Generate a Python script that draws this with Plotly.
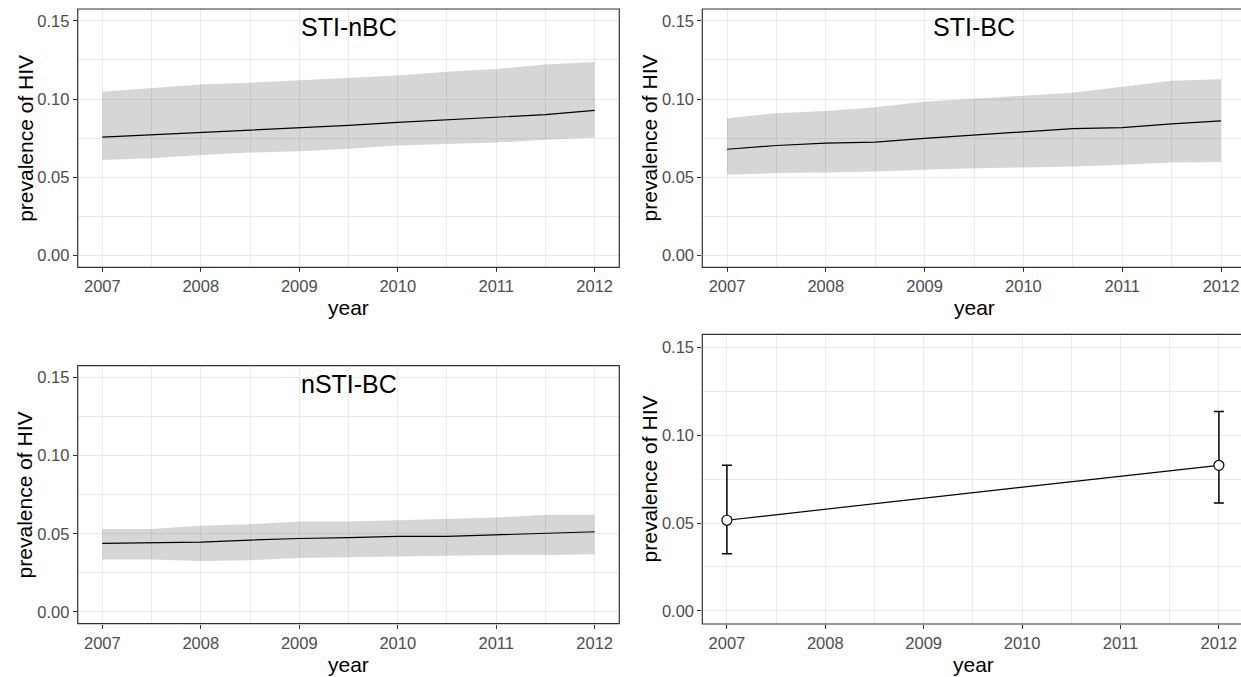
import plotly.graph_objects as go

W, H = 1241, 677

years = [2007, 2007.5, 2008, 2008.5, 2009, 2009.5, 2010, 2010.5, 2011, 2011.5, 2012]

# Panel 1: STI-nBC
p1_mean = [0.0756, 0.0771, 0.0786, 0.0800, 0.0817, 0.0832, 0.0851, 0.0866, 0.0881, 0.0900, 0.0928]
p1_low = [0.0611, 0.0622, 0.0643, 0.0658, 0.0667, 0.0682, 0.0703, 0.0713, 0.0722, 0.0739, 0.0754]
p1_up = [0.1047, 0.1068, 0.1093, 0.1104, 0.1119, 0.1134, 0.1151, 0.1174, 0.1191, 0.1221, 0.1236]

# Panel 2: STI-BC
p2_mean = [0.0679, 0.0703, 0.0718, 0.0724, 0.0749, 0.0771, 0.0792, 0.0811, 0.0817, 0.0841, 0.0860]
p2_low = [0.0516, 0.0527, 0.0531, 0.0537, 0.0548, 0.0558, 0.0563, 0.0569, 0.0580, 0.0594, 0.0597]
p2_up = [0.0877, 0.0909, 0.0924, 0.0947, 0.0983, 0.1000, 0.1021, 0.1040, 0.1079, 0.1117, 0.1127]

# Panel 3: nSTI-BC
p3_mean = [0.0439, 0.0441, 0.0447, 0.0460, 0.0470, 0.0475, 0.0483, 0.0483, 0.0492, 0.0502, 0.0513]
p3_low = [0.0335, 0.0335, 0.0326, 0.0331, 0.0345, 0.0350, 0.0354, 0.0356, 0.0364, 0.0364, 0.0369]
p3_up = [0.0530, 0.0530, 0.0551, 0.0561, 0.0578, 0.0578, 0.0587, 0.0597, 0.0604, 0.0621, 0.0621]

# Panel 4: observed points
obs_years = [2007, 2012]
obs_val = [0.0516, 0.0829]
obs_low = [0.0325, 0.0614]
obs_up = [0.0829, 0.1135]

titles = ["STI-nBC", "STI-BC", "nSTI-BC", ""]
xtick_vals = [2007, 2008, 2009, 2010, 2011, 2012]
ytick_vals = [0.00, 0.05, 0.10, 0.15]

FONT = "Liberation Sans, Arial, sans-serif"
GRID = "#ebebeb"
FRAME = "#333333"

# panel boxes in pixels: (left, right, top, bottom)
boxes = [
    (77.7, 619.3, 9.0, 267.3),
    (702.3, 1245.7, 9.0, 267.3),
    (77.7, 619.3, 365.7, 623.7),
    (702.3, 1243.5, 334.3, 624.0),
]

fig = go.Figure()

ribbons = [(p1_low, p1_up, p1_mean), (p2_low, p2_up, p2_mean), (p3_low, p3_up, p3_mean)]
for i, (lo, up, mn) in enumerate(ribbons):
    xa = "x" if i == 0 else f"x{i+1}"
    ya = "y" if i == 0 else f"y{i+1}"
    fig.add_trace(go.Scatter(x=years, y=lo, mode="lines", line=dict(width=0, color="rgba(0,0,0,0)"),
                             xaxis=xa, yaxis=ya, showlegend=False, hoverinfo="skip"))
    fig.add_trace(go.Scatter(x=years, y=up, mode="lines", line=dict(width=0, color="rgba(0,0,0,0)"),
                             fill="tonexty", fillcolor="rgba(51,51,51,0.2)",
                             xaxis=xa, yaxis=ya, showlegend=False, hoverinfo="skip"))
    fig.add_trace(go.Scatter(x=years, y=mn, mode="lines", line=dict(width=1.2, color="black"),
                             xaxis=xa, yaxis=ya, showlegend=False))

err_plus = [u - v for u, v in zip(obs_up, obs_val)]
err_minus = [v - l for v, l in zip(obs_val, obs_low)]
fig.add_trace(go.Scatter(x=obs_years, y=obs_val, mode="lines+markers",
                         line=dict(width=1.2, color="black"),
                         marker=dict(size=10, color="white", line=dict(width=1.2, color="black")),
                         error_y=dict(type="data", symmetric=False, array=err_plus, arrayminus=err_minus,
                                      color="black", thickness=1.5, width=5),
                         xaxis="x4", yaxis="y4", showlegend=False))

layout = dict(width=W, height=H, margin=dict(l=0, r=0, t=0, b=0),
              paper_bgcolor="white", plot_bgcolor="white", showlegend=False)

shapes = []
annotations = []
for i, (l, r, t, b) in enumerate(boxes):
    k = "" if i == 0 else str(i + 1)
    x0f, x1f = l / W, min(r, W) / W
    y0f, y1f = 1 - b / H, 1 - t / H
    full_w = r - l
    vis_w = min(r, W) - l
    xmax = 2006.75 + 5.5 * vis_w / full_w
    layout["xaxis" + k] = dict(domain=[x0f, x1f], anchor="y" + k, range=[2006.75, xmax],
                               tickvals=xtick_vals, ticks="outside", ticklen=4, tickwidth=1.1,
                               tickcolor=FRAME, showgrid=True, gridcolor=GRID, gridwidth=1.1,
                               minor=dict(dtick=0.5, tick0=2007, showgrid=True, gridcolor=GRID, gridwidth=0.55),
                               zeroline=False, showline=False,
                               tickfont=dict(family=FONT, size=16.5, color="#4d4d4d"))
    layout["yaxis" + k] = dict(domain=[y0f, y1f], anchor="x" + k, range=[-0.0075, 0.1575],
                               tickvals=ytick_vals, tickformat=".2f", ticks="outside", ticklen=4,
                               tickwidth=1.1, tickcolor=FRAME, showgrid=True, gridcolor=GRID, gridwidth=1.1,
                               minor=dict(dtick=0.025, tick0=0, showgrid=True, gridcolor=GRID, gridwidth=0.55),
                               zeroline=False, showline=False,
                               tickfont=dict(family=FONT, size=16.5, color="#4d4d4d"))
    shapes.append(dict(type="rect", xref="paper", yref="paper",
                       x0=x0f, x1=r / W, y0=y0f, y1=y1f,
                       line=dict(color=FRAME, width=1.2), layer="above"))
    # axis titles
    annotations.append(dict(text="year", xref="paper", yref="paper",
                            x=(l + 24.7 + 2.5 * full_w / 5.5) / W,
                            y=1 - (b + 40.5) / H, xanchor="center", yanchor="middle", showarrow=False,
                            font=dict(family=FONT, size=21, color="black")))
    annotations.append(dict(text="prevalence of HIV", xref="paper", yref="paper",
                            x=(l - 53) / W, y=1 - (t + b) / 2 / H, textangle=-90,
                            xanchor="center", yanchor="middle", showarrow=False,
                            font=dict(family=FONT, size=21, color="black")))
    if titles[i]:
        annotations.append(dict(text=titles[i], xref="x" + k, yref="y" + k, x=2009.5, y=0.146,
                                xanchor="center", yanchor="middle", showarrow=False,
                                font=dict(family=FONT, size=25, color="black")))

layout["shapes"] = shapes
layout["annotations"] = annotations
fig.update_layout(**layout)

fig.write_html("out.html", config={"displayModeBar": False},
               post_script="document.body.style.margin='0';document.body.style.overflow='hidden';")
